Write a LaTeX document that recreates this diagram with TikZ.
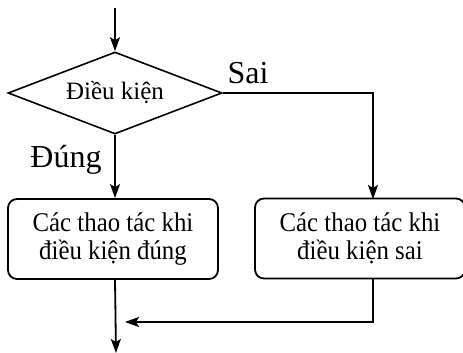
\documentclass[tikz,border=0pt]{standalone}
\usepackage{fontspec}
\setmainfont{Liberation Serif}
\newfontfamily\boxfont{Liberation Serif}[FakeStretch=0.92]
\usetikzlibrary{shapes.geometric,arrows.meta}
\tikzset{
  line/.style={line width=1.8pt},
  arr/.style={line, -{Stealth[length=14pt,width=10pt,inset=3pt]}},
  decision/.style={diamond, draw, line width=1.6pt, minimum width=214pt, minimum height=82pt, aspect=2.6, inner sep=0pt, font=\fontsize{25}{28}\selectfont},
  action/.style={draw, line width=1.8pt, rounded corners=9pt, minimum width=210pt, minimum height=80pt, align=center, font=\boxfont\fontsize{27}{27.5}\selectfont},
  lbl/.style={anchor=base, font=\fontsize{32}{34}\selectfont}
}
\begin{document}
\begin{tikzpicture}[x=1pt,y=-1pt]
\useasboundingbox (0,0) rectangle (463,353);
\node[decision] (d) at (115,93) {Điều kiện};
\node[action] (l) at (113,239) {Các thao tác khi\\điều kiện đúng};
\node[action] (r) at (360,238.5) {Các thao tác khi\\điều kiện sai};
\coordinate (start) at (115,8);
\coordinate (stop) at (116,353);
\coordinate (join) at (125,322);
\coordinate (rin) at (373,199);
\coordinate (rout) at (373,278);
\draw[arr] (start) -- (d.north);
\draw[arr] (d.south) -- (d.south |- l.north);
\draw[arr] (d.east) -| (rin);
\draw[arr] (rout) |- (join);
\draw[arr] (l.south -| d.south) -- (stop);
\node[lbl] (sai) at (248,83) {Sai};
\node[lbl] (dung) at (66,167) {Đúng};
\end{tikzpicture}
\end{document}
